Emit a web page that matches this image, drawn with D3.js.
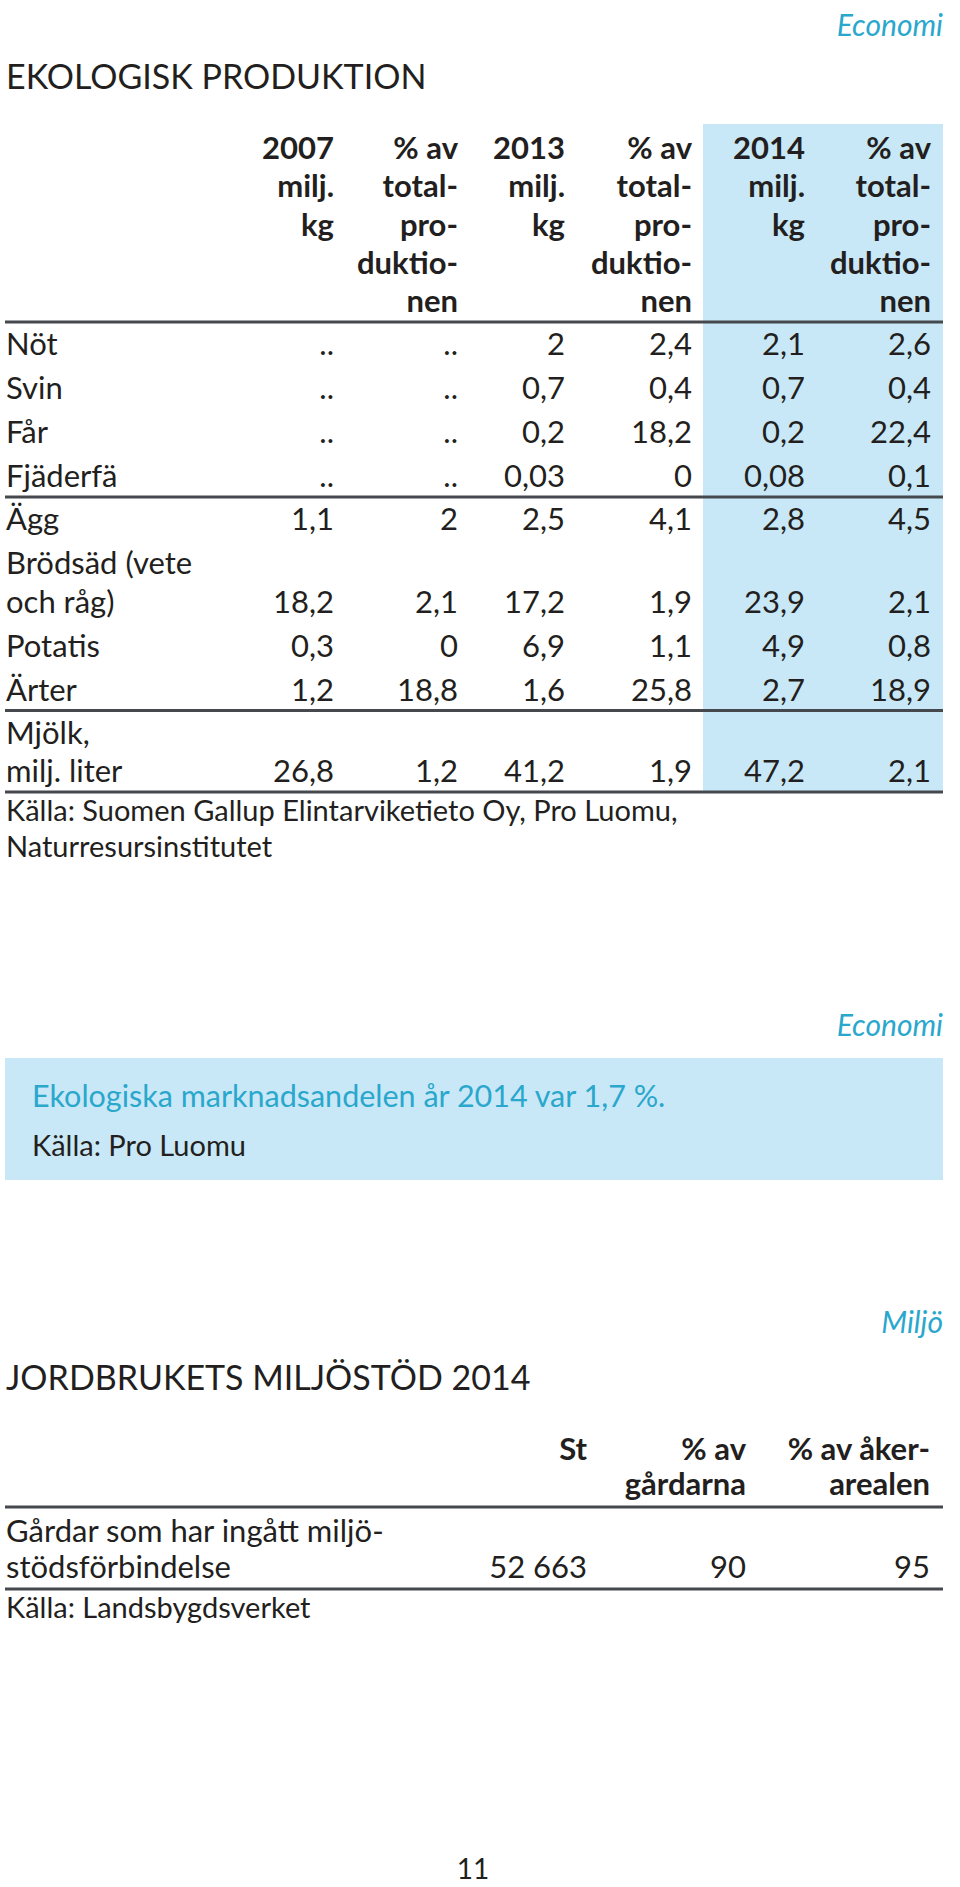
<!DOCTYPE html>
<html><head><meta charset="utf-8">
<script src="https://cdn.jsdelivr.net/npm/d3@7"></script>
<style>
html,body{margin:0;padding:0;background:#fff;}
svg{display:block;}
text{font-family:Lato,"Noto Sans",sans-serif;fill:#231f20;}
</style></head>
<body>
<script>
// ---------- DATA ----------
const products = [["Nöt"],["Svin"],["Får"],["Fjäderfä"],["Ägg"],["Brödsäd (vete","och råg)"],["Potatis"],["Ärter"],["Mjölk,","milj. liter"]];
const kg2007  = [null,null,null,null,1.1,18.2,0.3,1.2,26.8];
const pct2007 = [null,null,null,null,2,2.1,0,18.8,1.2];
const kg2013  = [2,0.7,0.2,0.03,2.5,17.2,6.9,1.6,41.2];
const pct2013 = [2.4,0.4,18.2,0,4.1,1.9,1.1,25.8,1.9];
const kg2014  = [2.1,0.7,0.2,0.08,2.8,23.9,4.9,2.7,47.2];
const pct2014 = [2.6,0.4,22.4,0.1,4.5,2.1,0.8,18.9,2.1];
const groupEnds = [3,7,8];
const colKeys = ["kg2007","pct2007","kg2013","pct2013","kg2014","pct2014"];
const colHeaders = [["2007","milj.","kg"],["% av","total-","pro-","duktio-","nen"],["2013","milj.","kg"],["% av","total-","pro-","duktio-","nen"],["2014","milj.","kg"],["% av","total-","pro-","duktio-","nen"]];
const source1 = ["Källa: Suomen Gallup Elintarviketieto Oy, Pro Luomu,","Naturresursinstitutet"];

const marketText = "Ekologiska marknadsandelen år 2014 var 1,7 %.";
const marketSource = "Källa: Pro Luomu";

const envKeys = ["st","pctFarms","pctArea"];
const envHeaders = [["St"],["% av","gårdarna"],["% av åker-","arealen"]];
const envRowLabel = ["Gårdar som har ingått miljö-","stödsförbindelse"];
const envValues = [52663,90,95];
const source2 = "Källa: Landsbygdsverket";
const pageNumber = "11";

// ---------- SETUP ----------
const W = 960, H = 1887;
const svg = d3.select("body").append("svg").attr("width",W).attr("height",H);
const locale = d3.formatLocale({decimal:",",thousands:"\u00a0",grouping:[3],currency:["",""]});
const fnum = locale.format(",~r");
const fmt = v => v == null ? ".." : fnum(v);
const cyan = "#2aa7cc", blueBg = "#c9e8f7", ruleColor = "#45494e";
const bodySize = 31, smallSize = 29, titleSize = 34, tagSize = 30;
const left = 6, right = 943, ruleLeft = 5;

// ---------- SECTION 1 ----------
svg.append("text").attr("x",right).attr("y",36).attr("text-anchor","end")
  .style("font-style","italic").style("font-size",tagSize+"px").style("fill",cyan).text("Economi");
svg.append("text").attr("x",left).attr("y",89).style("font-size",titleSize+"px").text("EKOLOGISK PRODUKTION");

const colX = d3.scaleOrdinal().domain(colKeys).range([334,458,565,692,805,931]);
const columns = {kg2007,pct2007,kg2013,pct2013,kg2014,pct2014};

// row layout
const headerRule = 322;
let cur = headerRule + 33;
const rows = [], rules = [headerRule];
products.forEach((lines,i) => {
  const first = cur, last = cur + (lines.length-1)*38.5;
  rows.push({lines, first, last, i});
  if (groupEnds.includes(i)) { const r = last + 10; rules.push(r); cur = r + 33; }
  else cur = last + 44;
});
const lastRule = rules[rules.length-1];

// highlight of 2014 columns
svg.append("rect").attr("x",703).attr("y",124).attr("width",right-703).attr("height",lastRule-124).attr("fill",blueBg);

// header
const hdr = svg.append("g").style("font-weight","700").style("font-size",bodySize+"px");
colKeys.forEach((k,ci) => {
  colHeaders[ci].forEach((t,li) => {
    hdr.append("text").attr("x",colX(k)).attr("y",159 + li*38.3).attr("text-anchor","end").text(t);
  });
});

// body
const body = svg.append("g").style("font-size",bodySize+"px");
rows.forEach(r => {
  r.lines.forEach((t,li) => body.append("text").attr("x",left).attr("y",r.first + li*38.5).text(t));
  colKeys.forEach(k => {
    body.append("text").attr("x",colX(k)).attr("y",r.last).attr("text-anchor","end").text(fmt(columns[k][r.i]));
  });
});

// rules
svg.selectAll("line.r1").data(rules).join("line").attr("class","r1")
  .attr("x1",ruleLeft).attr("x2",right).attr("y1",d=>d).attr("y2",d=>d)
  .attr("stroke",ruleColor).attr("stroke-width",3);

source1.forEach((t,i) => svg.append("text").attr("x",left).attr("y",lastRule+29+i*36).style("font-size",smallSize+"px").text(t));

// ---------- SECTION 2 ----------
svg.append("text").attr("x",right).attr("y",1036).attr("text-anchor","end")
  .style("font-style","italic").style("font-size",tagSize+"px").style("fill",cyan).text("Economi");
svg.append("rect").attr("x",ruleLeft).attr("y",1058).attr("width",right-ruleLeft).attr("height",122).attr("fill",blueBg);
svg.append("text").attr("x",32).attr("y",1107).style("font-size","30.5px").style("fill",cyan).text(marketText);
svg.append("text").attr("x",32).attr("y",1156).style("font-size",smallSize+"px").text(marketSource);

// ---------- SECTION 3 ----------
svg.append("text").attr("x",right).attr("y",1333).attr("text-anchor","end")
  .style("font-style","italic").style("font-size",tagSize+"px").style("fill",cyan).text("Miljö");
svg.append("text").attr("x",left).attr("y",1390).style("font-size",titleSize+"px").text("JORDBRUKETS MILJÖSTÖD 2014");

const envX = d3.scaleOrdinal().domain(envKeys).range([587,746,930]);
const hdr2 = svg.append("g").style("font-weight","700").style("font-size",bodySize+"px");
envKeys.forEach((k,ci) => envHeaders[ci].forEach((t,li) =>
  hdr2.append("text").attr("x",envX(k)).attr("y",1460+li*35).attr("text-anchor","end").text(t)));
const envRules = [1507,1589];
svg.selectAll("line.r2").data(envRules).join("line").attr("class","r2")
  .attr("x1",ruleLeft).attr("x2",right).attr("y1",d=>d).attr("y2",d=>d)
  .attr("stroke",ruleColor).attr("stroke-width",3);
const body2 = svg.append("g").style("font-size",bodySize+"px");
envRowLabel.forEach((t,i) => body2.append("text").attr("x",left).attr("y",1542+i*36).text(t));
envKeys.forEach((k,ci) => body2.append("text").attr("x",envX(k)).attr("y",1578).attr("text-anchor","end").text(fnum(envValues[ci])));
svg.append("text").attr("x",left).attr("y",1618).style("font-size",smallSize+"px").text(source2);

svg.append("text").attr("x",473).attr("y",1879).attr("text-anchor","middle").style("font-size","28px").text(pageNumber);
</script>
</body></html>
